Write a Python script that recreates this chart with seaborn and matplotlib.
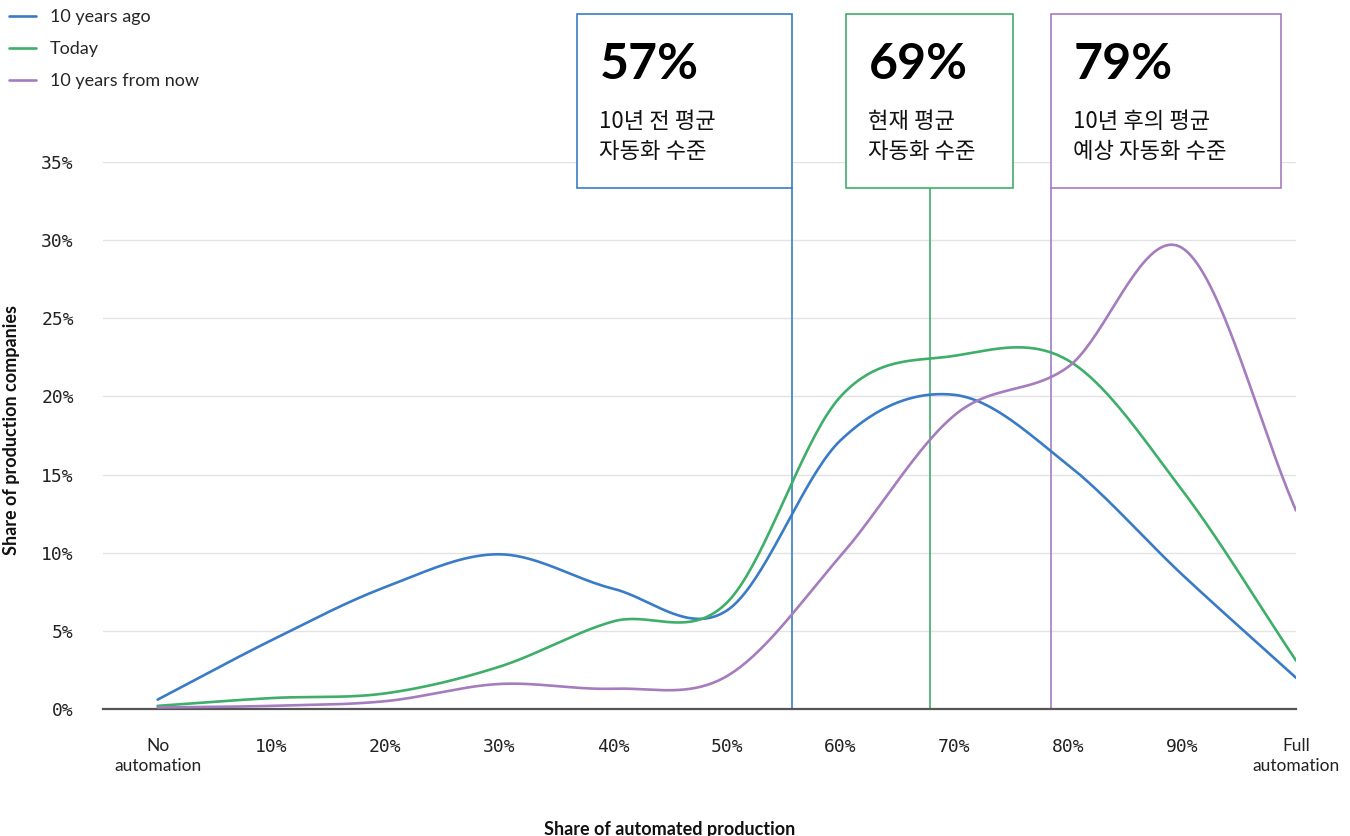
import numpy as np
import pandas as pd
import matplotlib
matplotlib.use('Agg')
import matplotlib.pyplot as plt
from matplotlib.patches import Rectangle
import seaborn as sns

# data
categories = ['No\nautomation', '10%', '20%', '30%', '40%', '50%', '60%', '70%', '80%', '90%', 'Full\nautomation']
ten_years_ago = [0.6, 4.4, 7.8, 9.9, 7.7, 6.3, 17.2, 20.1, 15.6, 8.6, 2.0]
today = [0.2, 0.7, 1.0, 2.7, 5.6, 6.8, 20.0, 22.6, 22.3, 14.0, 3.1]
ten_years_from_now = [0.1, 0.2, 0.5, 1.6, 1.3, 2.1, 9.8, 18.8, 21.9, 29.5, 12.7]
series_names = ['10 years ago', 'Today', '10 years from now']
y_ticks = [0, 5, 10, 15, 20, 25, 30, 35]

# average markers: big number, korean caption (two lines)
avg_values = ['57%', '69%', '79%']
avg_captions = [['10년 전 평균', '자동화 수준'],
                ['현재 평균', '자동화 수준'],
                ['10년 후의 평균', '예상 자동화 수준']]

colors = ['#3a7bc6', '#3fae6a', '#a57cbe']
W, H = 1350, 836

sns.set_style('white')
plt.rcParams['font.family'] = ['Lato', 'DejaVu Sans']


def smooth(y, n=40):
    # catmull-rom curve through the points (drawing only)
    y = np.asarray(y, float)
    k = len(y)
    m = np.zeros(k)
    m[1:-1] = (y[2:] - y[:-2]) / 2
    m[0] = y[1] - y[0]
    m[-1] = y[-1] - y[-2]
    xs, ys = [], []
    for i in range(k - 1):
        t = np.linspace(0, 1, n, endpoint=(i == k - 2))
        h00 = 2 * t**3 - 3 * t**2 + 1
        h10 = t**3 - 2 * t**2 + t
        h01 = -2 * t**3 + 3 * t**2
        h11 = t**3 - t**2
        xs.append(i + t)
        ys.append(h00 * y[i] + h10 * m[i] + h01 * y[i + 1] + h11 * m[i + 1])
    return np.concatenate(xs), np.concatenate(ys)


frames = []
for name, vals in zip(series_names, [ten_years_ago, today, ten_years_from_now]):
    sx, sy = smooth(vals)
    frames.append(pd.DataFrame({'x': sx, 'y': sy, 'series': name}))
df = pd.concat(frames, ignore_index=True)

fig = plt.figure(figsize=(W / 100, H / 100), dpi=100)
ax = fig.add_axes([103 / W, 1 - 709 / H, (1296 - 103) / W, (709 - 162) / H])

sns.lineplot(data=df, x='x', y='y', hue='series', hue_order=series_names,
             palette=colors, sort=False, linewidth=1.9, ax=ax, zorder=3)

ax.set_xlim(-0.48, 10)
ax.set_ylim(0, 35)
ax.set_yticks(y_ticks)
ax.set_yticklabels([f'{v}%' for v in y_ticks], family='DejaVu Sans Mono', fontsize=13, color='#222222')
ax.set_xticks(range(len(categories)))
ax.set_xticklabels(categories, fontsize=12.5, color='#222222', va='top', linespacing=1.3)
for lbl in ax.get_xticklabels():
    if '\n' not in lbl.get_text():
        lbl.set_family('DejaVu Sans Mono')
        lbl.set_fontsize(13)
ax.tick_params(axis='both', length=0)
ax.tick_params(axis='x', pad=21)
ax.tick_params(axis='y', pad=21)
ax.grid(axis='y', color='#e3e3e3', linewidth=1)
ax.grid(axis='x', visible=False)
for s in ['top', 'right', 'left']:
    ax.spines[s].set_visible(False)
ax.spines['bottom'].set_color('#555555')
ax.spines['bottom'].set_linewidth(1.6)
ax.set_xlabel('')
ax.set_ylabel('')

handles, labels = ax.get_legend_handles_labels()
ax.legend(handles, labels, loc='upper left', bbox_to_anchor=(0.0, 1.0), bbox_transform=fig.transFigure,
          frameon=False, fontsize=13, handlelength=1.5, handletextpad=0.75, labelspacing=0.88,
          borderpad=0.32, borderaxespad=0.2)

fig.text(12 / W, 1 - 430 / H, 'Share of production companies', rotation=90, ha='center', va='center',
         fontsize=13, fontweight='bold', color='#111111')
fig.text(670 / W, 1 - 829 / H, 'Share of automated production', ha='center', va='center',
         fontsize=13, fontweight='bold', color='#111111')

# vertical average lines and boxes
line_pos = [5.571, 6.784, 7.847]
box_px = [(577, 792), (846, 1013), (1051, 1281)]
box_top, box_bottom = 14, 188
y_bottom_val = (709 - box_bottom) / (709 - 162) * 35
for i in range(3):
    ax.plot([line_pos[i], line_pos[i]], [0, y_bottom_val], color=colors[i], linewidth=1.2, zorder=2)
    x0, x1 = box_px[i]
    fig.add_artist(Rectangle((x0 / W, 1 - box_bottom / H), (x1 - x0) / W, (box_bottom - box_top) / H,
                             transform=fig.transFigure, facecolor='white', edgecolor=colors[i],
                             linewidth=1.2, zorder=5))
    fig.text((x0 + 23) / W, 1 - 79 / H, avg_values[i], fontsize=36, fontweight='bold',
             color='black', va='baseline', ha='left', zorder=6)
    for j, line in enumerate(avg_captions[i]):
        fig.text((x0 + 22) / W, 1 - (128 + 30 * j) / H, line, fontsize=16, color='#111111',
                 va='baseline', ha='left', zorder=6, family=['Noto Sans CJK KR', 'DejaVu Sans'])

fig.savefig('out.png', dpi=100)
